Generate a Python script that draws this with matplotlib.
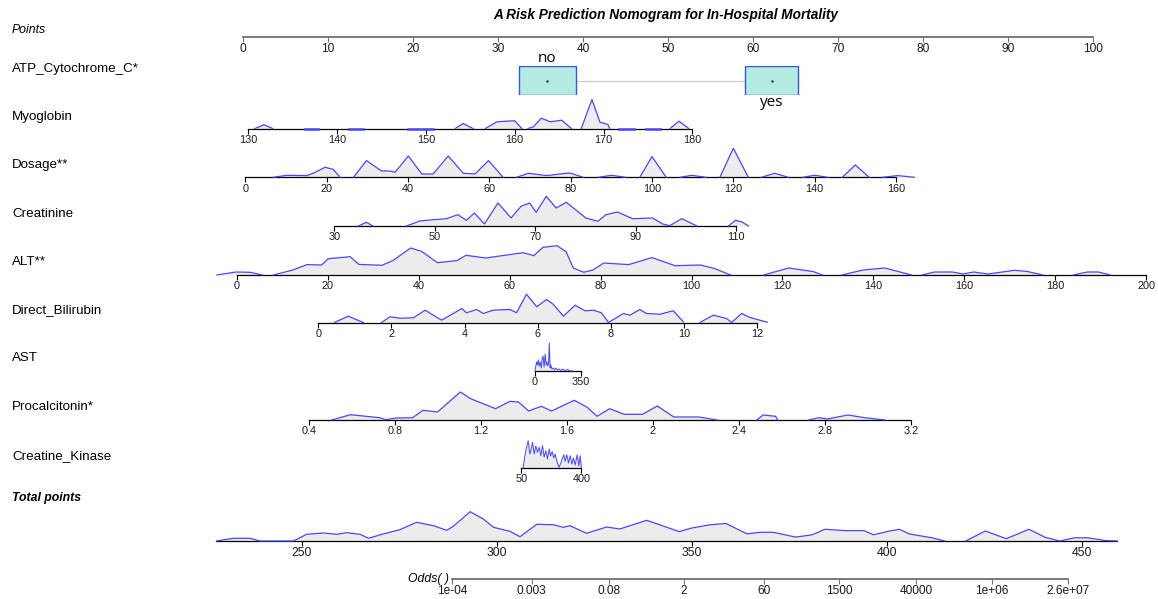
import numpy as np
import matplotlib
matplotlib.use("Agg")
import matplotlib.pyplot as plt
from matplotlib.patches import Rectangle

plt.rcParams['font.family'] = ['Liberation Sans', 'DejaVu Sans']

TITLE = "A Risk Prediction Nomogram for In-Hospital Mortality"

# ---- data -----------------------------------------------------------------
points_ticks = list(range(0, 101, 10))

atp_levels = ["no", "yes"]
atp_points = [35.8, 62.2]

myo_ticks = [130, 140, 150, 160, 170, 180]
myo_x = [[130.75, 131.76, 132.74], [136.4, 137.9], [141.3, 142.9], [148.0, 150.8],
         [153.3, 154.2, 155.3], [156.7, 158.0, 159.1, 160.0, 160.8],
         [161.5, 162.1, 163.0, 164.0, 165.3, 166.2, 166.4],
         [167.5, 168.7, 169.6, 170.5, 170.7], [171.8, 173.4], [174.8, 176.4],
         [177.5, 178.5, 179.6]]
myo_h = [[0, 3.7, 0], [0, 0], [0, 0], [0, 0], [0, 5, 0], [0, 6.7, 7.3, 7.7, 0],
         [0, 1.7, 10.3, 6.7, 8.3, 1.3, 0], [0, 29, 6.3, 4, 0], [0, 0], [0, 0],
         [0, 7.3, 0]]

dose_ticks = list(range(0, 161, 20))
dose_x = [[6.9, 10.2, 15.1, 16.7, 19.6, 21.6, 23.3],
          [26.6, 29.8, 33.5, 35.6, 36.8, 40.1, 43.4, 46.2, 49.9, 53.6, 56.5, 59.8, 63.4],
          [66.7, 69.6, 74.1, 77.4, 79.8, 83.1], [86.8, 90.1, 93.5],
          [97.0, 100.0, 103.5], [106.9, 109.8, 113.3], [116.7, 120.0, 123.7],
          [126.9, 130.2, 133.5], [137.1, 140.0, 143.3], [146.8, 150.0, 153.4],
          [156.7, 160.4, 164.5]]
dose_h = [[0, 2, 1.7, 4, 10, 8, 0],
          [0, 16.7, 6.3, 6.3, 5, 21.3, 3.3, 3.3, 21.3, 4, 3.3, 16.7, 0],
          [0, 4, 1.7, 3.3, 4.3, 0], [0, 2, 0], [0, 20.7, 0], [0, 2, 0], [0, 29, 0],
          [0, 4, 0], [0, 2, 0], [0, 12.3, 0], [0, 1.7, 0]]

creat_ticks = [30, 50, 70, 90, 110]
creat_x = [[34.8, 36.4, 37.7],
           [44.4, 47.0, 49.7, 52.3, 54.6, 56.3, 57.9, 59.9, 62.6, 65.2, 67.2, 68.9, 70.2,
            72.2, 74.2, 76.2, 80.1, 82.5, 84.1, 86.4, 89.4, 93.4, 95.4, 96.8, 99.2, 102.2],
           [108.5, 109.9, 111.2, 112.5]]
creat_h = [[0, 3.7, 0],
           [0, 5, 6.3, 7.3, 11.3, 5.7, 13, 2, 23, 8, 19.7, 23, 13.7,
            29.7, 18, 23.7, 8, 4.7, 11.3, 14, 7.3, 8, 2, 0.3, 7.3, 0],
           [0, 5.7, 4, 0]]

alt_ticks = list(range(0, 201, 20))
alt_x = [[-4.4, -0.3, 2.9, 5.6],
         [8, 12.3, 15.4, 18.6, 20.1, 24.9, 26.8, 31.9, 34.3, 38.2, 40.6, 44.1, 48.4, 50.4,
          54.7, 59.4, 63, 65.3, 67.3, 70.4, 72.4, 74, 76.3, 78.3, 80.7, 86.2, 91.3, 96.4,
          101.9, 105, 108.6],
         [115.9, 121.4, 126.8, 128.8], [133.1, 137.8, 142.5, 148.4],
         [150.7, 153.5, 157.4, 159.7, 162.1, 165.2, 171.1, 173.8, 177.3],
         [184, 187.1, 189.5, 192.2]]
alt_h = [[0, 3.0, 2.7, 0],
         [0, 5, 10.4, 10, 16.3, 18.3, 10.6, 9.7, 14.4, 27, 23.7, 12.3, 14.4, 19.7,
          17, 20, 22.3, 19.3, 27.6, 29.3, 23.3, 7, 2.7, 5, 12, 10.4, 17.4, 9.3,
          10, 6.6, 0],
         [0, 7, 3.4, 0], [0, 5, 7, 0], [0, 3, 3, 1, 3, 1, 4.7, 3.6, 0], [0, 3, 3, 0]]

dbil_ticks = list(range(0, 13, 2))
dbil_x = [[0.44, 0.82, 1.23],
          [1.73, 1.96, 2.23, 2.6, 2.92, 3.37, 3.69, 3.92, 4.05, 4.33, 4.51, 4.78, 5.24,
           5.42, 5.69, 5.97, 6.24, 6.42, 6.7, 7.02, 7.29, 7.52, 7.74, 7.93, 8.34, 8.52,
           8.79, 8.97, 9.34, 9.7, 9.98],
          [10.43, 10.8, 11.16, 11.3, 11.57, 11.8, 12.27]]
dbil_h = [[0, 6.3, 0],
          [0, 5.7, 4.3, 4.7, 12.3, 2.3, 9, 14, 9.7, 13, 9, 12.3, 13,
           9.7, 28.3, 15.7, 23, 18.3, 6.3, 17.3, 11.7, 12.3, 9.7, 0, 9, 7.3,
           13, 9, 8.3, 11.7, 0.7],
          [0, 7.3, 4, 0, 9, 5, 0.3]]

ast_ticks = [0, 350]
ast_x = [[0, 5, 12, 18, 25, 32, 40, 48, 55, 62, 70, 78, 86, 92, 98, 104, 110, 116, 122,
          130, 140, 150, 160, 172, 185, 200, 215, 230, 250, 270, 290]]
ast_h = [[0, 4, 9, 6, 11, 5, 9, 3, 12, 15, 4, 17, 6, 9, 5, 7, 28, 3, 6,
          2, 3, 1, 3, 1, 2, 0.5, 2, 0.5, 1.5, 0, 0]]

pct_ticks = [0.4, 0.8, 1.2, 1.6, 2.0, 2.4, 2.8, 3.2]
pct_labels = ["0.4", "0.8", "1.2", "1.6", "2", "2.4", "2.8", "3.2"]
pct_x = [[0.506, 0.593, 0.651, 0.728, 0.757, 0.805, 0.882, 0.93, 0.998, 1.104, 1.152,
          1.21, 1.268, 1.335, 1.374, 1.422, 1.48, 1.528, 1.634, 1.692, 1.74, 1.798,
          1.866, 1.952, 2.02, 2.097, 2.213, 2.3],
         [2.483, 2.512, 2.57, 2.58], [2.724, 2.772, 2.81, 2.907, 2.984, 3.08]]
pct_h = [[0, 5.3, 4, 2.3, 0.3, 2, 2.3, 9.7, 8, 28, 21.3,
          16.3, 11.3, 18.7, 18, 9, 13.7, 9, 19.7, 13, 3.7, 11.3,
          5.7, 5.7, 14, 3, 3, 0],
         [0, 5, 3.7, 0], [0, 2.3, 1, 5, 2.3, 0]]

ck_ticks = [50, 400]
ck_x = [[59.7, 69.4, 79.2, 88.9, 98.6, 108.3, 114.2, 123.9, 133.6, 143.3, 153, 162.8,
         172.5, 182.2, 191.9, 201.7, 211.4, 219.1, 228.9, 238.6, 246.4, 258, 269.7,
         279.4, 289.1, 296.9, 304.7, 314.4, 324.1, 333.9, 343.6, 353.3, 363, 374.7,
         384.4, 392.2, 400]]
ck_h = [[0, 12, 20.7, 27.3, 14, 20, 25.7, 14, 22, 15.7, 20.7, 12.3,
         22.3, 11, 17.3, 9, 19, 12, 16.3, 10, 14, 6, 0.7,
         5, 10, 13.3, 6.7, 13.3, 5, 12.3, 4, 10, 3, 13.3,
         2, 12.3, 0]]

total_ticks = [250, 300, 350, 400, 450]
total_x = [[228.1, 232.4, 236.7, 239.2, 247.8, 251.2, 255.5, 258.9, 261.5, 264.9, 267,
            270.8, 275.1, 279.4, 283.7, 287.1, 288.8, 293.1, 296.5, 299.1, 303.3, 305.9,
            310.2, 314.4, 317, 318.7, 323, 328.1, 331.5, 338.4, 346.7, 350, 354.6, 358.7,
            364.1, 367.4, 370.8, 376.6, 380.8, 384.1, 389.1, 394.1, 396.5, 400.7, 403.2,
            405.7, 411.5, 414.8],
           [420.2, 425.2, 430.6, 436.4, 440.6, 444.3, 448.1, 451.4, 455.9, 459.0]]
total_h = [[0, 2.7, 2.7, 0, 0, 6.7, 8, 6.7, 8.3, 6.7, 2.7,
            7, 11.3, 18.7, 15.3, 10.7, 14.7, 29.3, 22, 13.7, 9.7, 4.3,
            16.7, 16.3, 13.7, 15.3, 7.7, 14, 12, 20.7, 9.4, 13, 16.2, 17.5,
            7.1, 8.7, 8.7, 3.9, 6.2, 11.7, 10.4, 10.4, 6.2, 10, 11.7,
            7.1, 3.2, 0],
           [0, 10, 2.3, 11.7, 3.6, 0, 3.2, 3.2, 0.5, 0]]

odds_ticks = [1e-4, 0.003, 0.08, 2, 60, 1500, 40000, 1e6, 2.6e7]
odds_labels = ["1e-04", "0.003", "0.08", "2", "60", "1500", "40000", "1e+06", "2.6e+07"]

# ---- layout ---------------------------------------------------------------
W, H = 1158, 599
fig = plt.figure(figsize=(W / 100, H / 100), dpi=100)

FILL = "#ececec"
BLUE = "#4646ff"


def row_axes(y_px, px0, v0, px1, v1, height=40, log=False):
    """full-width axes whose bottom edge is the row's axis line (pixels from top)"""
    ax = fig.add_axes([0, 1 - y_px / H, 1, height / H])
    ax.patch.set_alpha(0)
    if log:
        ax.set_xscale("log")
        l0, l1 = np.log10(v0), np.log10(v1)
        k = (l1 - l0) / (px1 - px0)
        ax.set_xlim(10 ** (l0 - px0 * k), 10 ** (l0 + (W - px0) * k))
    else:
        k = (v1 - v0) / (px1 - px0)
        ax.set_xlim(v0 - px0 * k, v0 + (W - px0) * k)
    ax.set_ylim(0, height)
    for s in ("top", "left", "right"):
        ax.spines[s].set_visible(False)
    ax.set_yticks([])
    return ax


def scale(ax, ticks, labels=None, lo=None, hi=None, color="black", lw=0.9,
          size=7.8, tlen=3.5):
    lo = ticks[0] if lo is None else lo
    hi = ticks[-1] if hi is None else hi
    ax.spines["bottom"].set_bounds(lo, hi)
    ax.spines["bottom"].set_color(color)
    ax.spines["bottom"].set_linewidth(lw)
    ax.set_xticks(ticks, labels=labels if labels else [f"{t:g}" for t in ticks])
    ax.set_xticks([], minor=True)
    ax.tick_params(axis="x", length=tlen, width=0.8, color=color, pad=1.0,
                   labelsize=size, labelcolor="#1a1a1a")


def density(ax, xs_list, hs_list, lw=0.9):
    for xs, hs in zip(xs_list, hs_list):
        ax.fill_between(xs, 0, hs, color=FILL, lw=0, zorder=1)
        flat = max(hs) == 0
        ax.plot(xs, hs, color=BLUE, lw=1.8 if flat else lw, zorder=3, clip_on=False,
                solid_joinstyle="round")


def label(y_px, text, size=9.6, **kw):
    fig.text(12 / W, 1 - y_px / H, text, ha="left", va="center", fontsize=size, **kw)


fig.text(666 / W, 1 - 15 / H, TITLE, ha="center", va="center", fontsize=9.8,
         fontweight="bold", style="italic")

# Points
ax = row_axes(37, 243, 0, 1093, 100, height=20)
scale(ax, points_ticks, color="#707070", lw=1.3, size=8.6)
label(30, "Points", size=8.8, style="italic")

# ATP_Cytochrome_C (categorical)
ax = row_axes(95, 243, 0, 1093, 100, height=29)
ax.spines["bottom"].set_visible(False)
ax.set_xticks([])
box_w = [6.7, 6.3]
ax.plot([atp_points[0] + box_w[0] / 2, atp_points[1] - box_w[1] / 2], [14.5, 14.5],
        color="#cccccc", lw=0.9, zorder=1)
for i, (lv, p) in enumerate(zip(atp_levels, atp_points)):
    ax.add_patch(Rectangle((p - box_w[i] / 2, 0), box_w[i], 29, fc="#b3ebe1",
                           ec="#3355ff", lw=1.0, zorder=2))
    ax.plot(p, 14.5, marker="s", ms=0.7, color="#333333", zorder=3)
    ax.text(p, 36 if i == 0 else -7, lv, ha="center", va="center", fontsize=11,
            family=["Open Sans", "DejaVu Sans"], clip_on=False)
label(69, "ATP_Cytochrome_C*")

rows = [
    ("Myoglobin", 117, 128.5, (248.3, 130, 692.3, 180), myo_ticks, None, myo_x, myo_h),
    ("Dosage**", 165, 177.3, (245.3, 0, 896, 160), dose_ticks, None, dose_x, dose_h),
    ("Creatinine", 214, 226, (334.3, 30, 736, 110), creat_ticks, None, creat_x, creat_h),
    ("ALT**", 262, 275, (237, 0, 1146, 200), alt_ticks, None, alt_x, alt_h),
    ("Direct_Bilirubin", 310, 322.5, (318.3, 0, 757.3, 12), dbil_ticks, None, dbil_x, dbil_h),
    ("AST", 358, 371, (535, 0, 580.5, 350), ast_ticks, None, ast_x, ast_h),
    ("Procalcitonin*", 407, 420, (309, 0.4, 911, 3.2), pct_ticks, pct_labels, pct_x, pct_h),
    ("Creatine_Kinase", 456, 468, (521.5, 50, 581.5, 400), ck_ticks, None, ck_x, ck_h),
]
for name, ly, ay, anchors, ticks, labs, xs, hs in rows:
    ax = row_axes(ay, *anchors)
    scale(ax, ticks, labs)
    density(ax, xs, hs, lw=0.7 if name in ("AST", "Creatine_Kinase") else 0.9)
    label(ly, name)

# Total points
ax = row_axes(541, 302, 250, 1082, 450)
scale(ax, total_ticks, lo=228, hi=459, size=8.8)
density(ax, total_x, total_h)
label(498, "Total points", size=8.8, style="italic", fontweight="bold")

# Odds
ax = row_axes(579, 452, odds_ticks[0], 1068, odds_ticks[-1], height=20, log=True)
scale(ax, odds_ticks, odds_labels, color="#707070", lw=1.3, size=8.6)
fig.text(449 / W, 1 - 579 / H, "Odds( )", ha="right", va="center", fontsize=8.8,
         style="italic")

fig.savefig("out.png", dpi=100)
plt.close(fig)
